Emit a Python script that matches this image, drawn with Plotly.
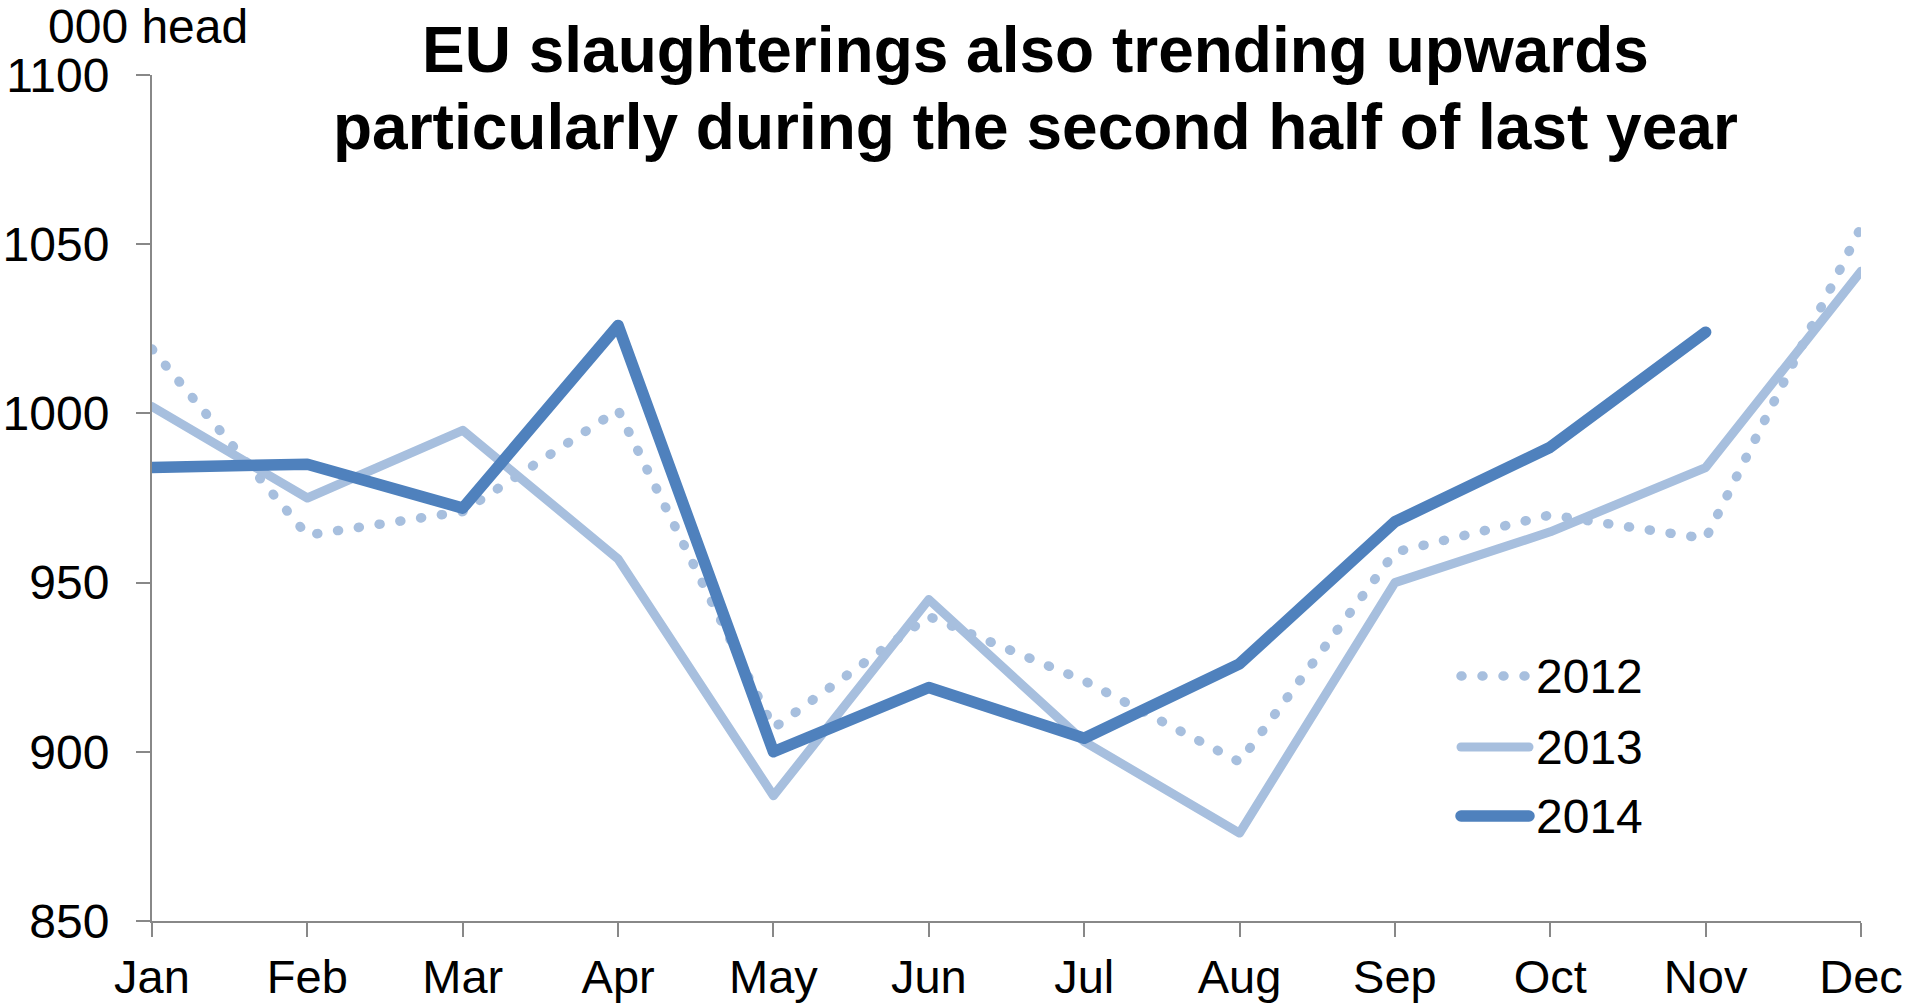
import plotly.graph_objects as go

months = ["Jan", "Feb", "Mar", "Apr", "May", "Jun", "Jul", "Aug", "Sep", "Oct", "Nov", "Dec"]
y2012 = [1019, 964, 971, 1001, 907, 940, 921, 897, 959, 970, 963, 1055]
y2013 = [1002, 975, 995, 957, 887, 945, 903, 876, 950, 965, 984, 1042]
y2014 = [984, 985, 972, 1026, 900, 919, 904, 926, 968, 990, 1024]
series_names = ["2012", "2013", "2014"]
y_ticks = [850, 900, 950, 1000, 1050, 1100]

LIGHT = "#A7BFDE"
DARK = "#4F81BD"
AXIS = "#888888"
FONT = "Liberation Sans, Arial, sans-serif"

W, H = 1911, 1003
L, R, T, B = 152, 50, 75, 82
PW, PH = W - L - R, H - T - B


def px_x(p):
    return (p - L) / PW


def px_y(p):
    return (H - B - p) / PH


fig = go.Figure()
fig.add_trace(go.Scatter(x=list(range(12)), y=y2012, mode="lines", name=series_names[0],
                         line=dict(color=LIGHT, width=9.5, dash="1px,20px"), showlegend=False))
fig.add_trace(go.Scatter(x=list(range(12)), y=y2013, mode="lines", name=series_names[1],
                         line=dict(color=LIGHT, width=9), showlegend=False))
fig.add_trace(go.Scatter(x=list(range(11)), y=y2014, mode="lines", name=series_names[2],
                         line=dict(color=DARK, width=11.5), showlegend=False))

annotations = [
    dict(text="<b>EU slaughterings also trending upwards</b>", x=px_x(1035), y=px_y(50),
         xref="paper", yref="paper", xanchor="center", yanchor="middle", showarrow=False,
         font=dict(size=64, color="black", family=FONT)),
    dict(text="<b>particularly during the second half of last year</b>", x=px_x(1035), y=px_y(127),
         xref="paper", yref="paper", xanchor="center", yanchor="middle", showarrow=False,
         font=dict(size=64, color="black", family=FONT)),
    dict(text="000 head", x=px_x(46), y=px_y(27), xref="paper", yref="paper",
         xanchor="left", yanchor="middle", showarrow=False,
         font=dict(size=48, color="black", family=FONT)),
]

shapes = []
legend_styles = [
    dict(color=LIGHT, width=9.5, dash="1px,20px"),
    dict(color=LIGHT, width=9),
    dict(color=DARK, width=11.5),
]
legend_y = [676, 747, 816]
for name, st, ly in zip(series_names, legend_styles, legend_y):
    shapes.append(dict(type="line", xref="paper", yref="paper",
                       x0=px_x(1461), x1=px_x(1529), y0=px_y(ly), y1=px_y(ly), line=st))
    annotations.append(dict(text=name, x=px_x(1534), y=px_y(ly), xref="paper", yref="paper",
                            xanchor="left", yanchor="middle", showarrow=False,
                            font=dict(size=48, color="black", family=FONT)))

fig.update_layout(
    width=W, height=H,
    margin=dict(l=L, r=R, t=T, b=B, pad=0, autoexpand=False),
    paper_bgcolor="white", plot_bgcolor="white",
    font=dict(family=FONT, color="black"),
    annotations=annotations,
    shapes=shapes,
    showlegend=False,
)
fig.update_xaxes(
    range=[0, 11], tickmode="array", tickvals=list(range(12)), ticktext=months,
    showgrid=False, zeroline=False, showline=True, linecolor=AXIS, linewidth=2,
    ticks="outside", ticklen=14, tickwidth=2, tickcolor=AXIS, automargin=False,
    tickfont=dict(size=47, family=FONT, color="black"), ticklabelstandoff=0,
)
fig.update_yaxes(
    range=[850, 1100], tickmode="array", tickvals=y_ticks,
    showgrid=False, zeroline=False, showline=True, linecolor=AXIS, linewidth=2,
    ticks="outside", ticklen=14, tickwidth=2, tickcolor=AXIS, automargin=False,
    tickfont=dict(size=48, family=FONT, color="black"), ticklabelstandoff=17,
)

post = """
function fixCaps(){
  document.querySelectorAll('.scatterlayer .js-line, .shapelayer path').forEach(function(p){
    p.style.strokeLinecap='round'; p.style.strokeLinejoin='round';
  });
}
fixCaps();
var gd = document.getElementsByClassName('plotly-graph-div')[0];
if (gd && gd.on) { gd.on('plotly_afterplot', fixCaps); }
"""
fig.write_html("out.html", post_script=post)
